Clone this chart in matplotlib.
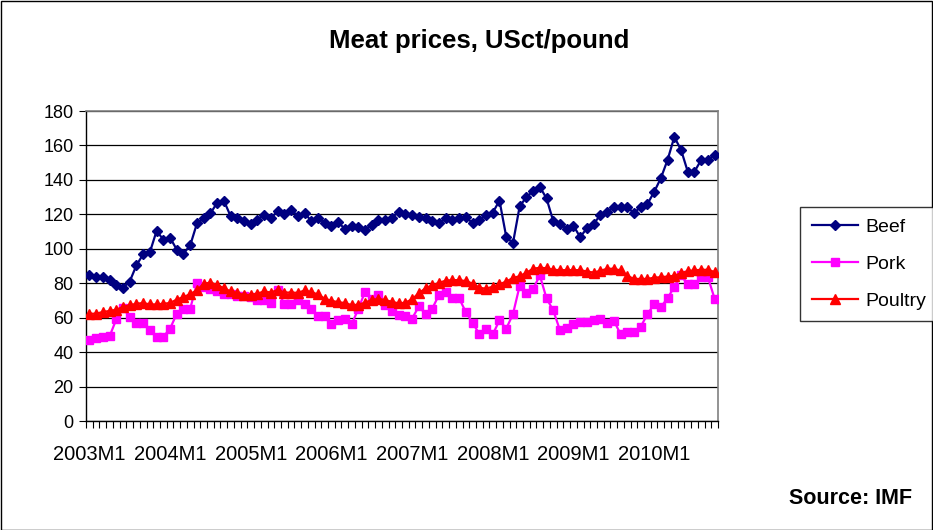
import matplotlib
matplotlib.use("Agg")
import matplotlib.pyplot as plt
import numpy as np
from matplotlib.patches import Rectangle

plt.rcParams['font.family'] = ['Liberation Sans', 'DejaVu Sans']

# ---- data (IMF monthly, US cents per pound), 2003M1 .. 2010M10 ----
years = list(range(2003, 2011))
beef = [84.5, 83.5, 83.5, 82, 78.7, 77.3, 81, 90.4, 96.8, 98, 110.4, 105.3,
        106.5, 99.5, 97.2, 102, 114.7, 117.6, 120.5, 126.7, 128, 119, 117.6, 116.2,
        114.3, 117, 119.5, 117.6, 122, 120, 122.8, 119, 121, 116, 118, 115,
        113, 115.5, 111.5, 113, 112.5, 111, 114, 117, 117, 118, 121.5, 120,
        119.5, 118.2, 117.6, 116.2, 114.7, 117.6, 116.6, 117.6, 118.2, 115, 116.6, 119.5,
        121, 128, 107, 103.2, 124.6, 130, 133.5, 136, 129.2, 116, 114.6, 111.3,
        113.5, 106.7, 112, 114.5, 119.5, 121.5, 124, 124.5, 124.5, 120.5, 124.5, 126,
        133, 141, 151.6, 164.9, 157.5, 144.8, 144.8, 151.6, 151.6, 154.6]
pork = [46.8, 48, 49, 49.1, 59, 65.5, 60.6, 56.9, 56.9, 52.6, 48.9, 48.9,
        53.6, 62.3, 65.2, 65.2, 80, 78, 76.5, 75.5, 74, 73.7, 72.8, 72.3,
        71.8, 70, 70, 68.5, 76, 67.8, 67.8, 70, 68, 65.2, 61, 60.8,
        56.1, 58.4, 59.4, 56.1, 65, 75, 71, 73.2, 67.2, 64, 61.4, 60.8,
        59.5, 66.5, 62.2, 65.3, 73.2, 74.7, 71.2, 71.2, 63.2, 57, 50.5, 53.6,
        50.3, 58.5, 53.6, 62, 78.5, 74.5, 76.7, 84.5, 71.2, 64.2, 52.6, 54,
        56.3, 57.2, 57.6, 58.5, 59.4, 57, 58.3, 50.5, 51.5, 51.5, 54.7, 62,
        67.8, 66.3, 71.2, 78, 84.5, 79.3, 79.3, 83.4, 83.4, 71]
poultry = [62.3, 62.3, 63.3, 63.9, 64.6, 66.2, 67.2, 68.1, 68.5, 67.7, 67.7, 68.1,
           68.5, 70.5, 72, 73.6, 76, 79.6, 80.4, 79, 77.1, 75.2, 74.2, 73.2,
           73.2, 74, 75.2, 74.6, 76.1, 74.6, 74.6, 74.4, 75.8, 74.8, 73.5, 71,
           69.8, 69, 68.5, 67.3, 67.5, 68.7, 70.3, 70.9, 70.2, 69.2, 68.3, 68.7,
           70.7, 74.2, 77.1, 78.7, 80.2, 81.5, 81.8, 81.8, 81.2, 79.8, 77.4, 76.8,
           78, 79.3, 81, 83, 84.1, 86.1, 88.4, 89, 88.7, 87.8, 87.6, 87.6,
           87.6, 87.6, 86.8, 86.2, 87.2, 88.4, 88.4, 87.4, 84.3, 82.5, 82.5, 82.5,
           83.2, 83.5, 83.9, 84.3, 85.8, 87, 87.5, 87.8, 87.8, 86.5]
labels = [f"{y}M1" for y in years]
series_names = ["Beef", "Pork", "Poultry"]

n = len(beef)
x = np.arange(n)

W, H = 933, 530
fig = plt.figure(figsize=(W / 100, H / 100), dpi=100)
fig.patch.set_facecolor('white')
fig.patches.append(Rectangle((0.5 / W, 0.5 / H), 1 - 1.5 / W, 1 - 1.5 / H,
                             transform=fig.transFigure, fill=False,
                             edgecolor='black', lw=1.0))

L, R, T, B = 86, 718, 111, 421
ax = fig.add_axes([L / W, (H - B) / H, (R - L) / W, (B - T) / H])

ax.plot(x, beef, color='#000080', lw=1.6, marker='D', ms=5.5,
        mec='#000080', mfc='#000080', label=series_names[0], zorder=3)
ax.plot(x, pork, color='#FF00FF', lw=1.6, marker='s', ms=5.2,
        mec='#FF00FF', mfc='#FF00FF', label=series_names[1], zorder=4)
ax.plot(x, poultry, color='#FF0000', lw=1.6, marker='^', ms=7.0,
        mec='#FF0000', mfc='#FF0000', label=series_names[2], zorder=5)

ax.set_xlim(-0.5, n - 0.5)
ax.set_ylim(0, 180)
ax.set_yticks(np.arange(0, 181, 20))
ax.yaxis.grid(True, color='black', lw=0.9)
ax.set_axisbelow(True)

# category ticks at every boundary, labels every 12 months
ax.set_xticks(np.arange(-0.5, n, 1.0), minor=True)
ax.set_xticks(np.arange(0, n, 12))
ax.set_xticklabels(labels)
ax.tick_params(axis='x', which='minor', length=5, width=0.8, direction='out')
ax.tick_params(axis='x', which='major', length=0, pad=17, labelsize=14.5)
ax.tick_params(axis='y', length=5, width=0.8, direction='out', labelsize=13, pad=4)

for s in ['left', 'bottom']:
    ax.spines[s].set_color('black')
    ax.spines[s].set_linewidth(1.0)
for s in ['right', 'top']:
    ax.spines[s].set_color('#808080')
    ax.spines[s].set_linewidth(1.2)

fig.text(479 / W, 1 - 41 / H, "Meat prices, USct/pound", ha='center', va='center',
         fontsize=18.5, fontweight='bold')
fig.text(912 / W, 1 - 498 / H, "Source: IMF", ha='right', va='center',
         fontsize=15.5, fontweight='bold')

leg = fig.legend(loc='upper left', bbox_to_anchor=(800 / W, 1 - 207 / H),
                 frameon=True, fancybox=False, edgecolor='black', fontsize=14,
                 handlelength=2.4, borderpad=0.6, labelspacing=0.98,
                 handletextpad=0.35, borderaxespad=0)
leg.get_frame().set_linewidth(1.0)

fig.savefig("out.png", dpi=100, facecolor='white')
